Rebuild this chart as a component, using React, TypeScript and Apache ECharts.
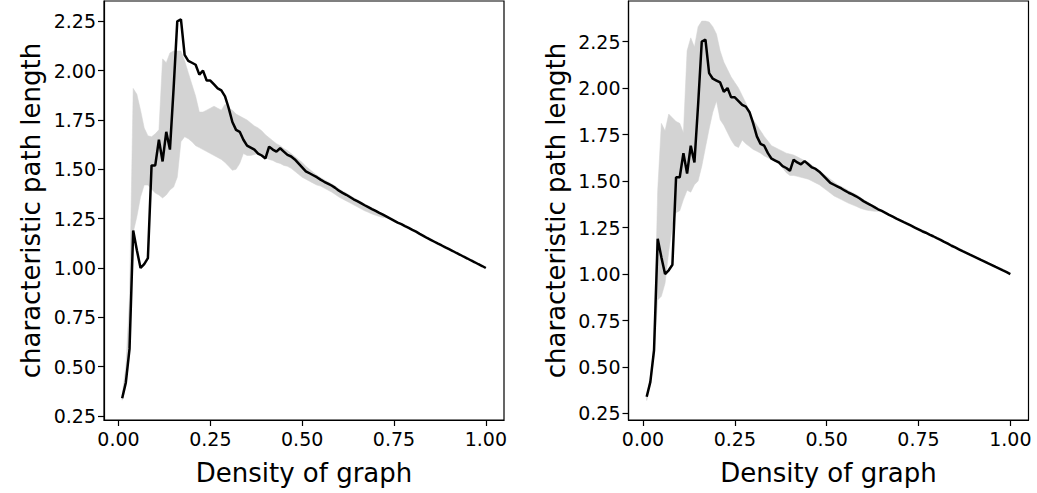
import React, { useEffect, useRef } from "react";
import * as echarts from "echarts";

// Density of graph (x values shared by both panels)
const density = [
  0.01, 0.02, 0.03, 0.04, 0.05, 0.06, 0.07, 0.08, 0.09, 0.1,
  0.11, 0.12, 0.13, 0.14, 0.15, 0.16, 0.17, 0.18, 0.19, 0.2,
  0.21, 0.22, 0.23, 0.24, 0.25, 0.26, 0.27, 0.28, 0.29, 0.3,
  0.31, 0.32, 0.33, 0.34, 0.35, 0.36, 0.37, 0.38, 0.39, 0.4,
  0.41, 0.42, 0.43, 0.44, 0.45, 0.46, 0.47, 0.48, 0.49, 0.5,
  0.51, 0.52, 0.53, 0.54, 0.55, 0.56, 0.57, 0.58, 0.59, 0.6,
  0.61, 0.62, 0.63, 0.64, 0.65, 0.66, 0.67, 0.68, 0.69, 0.7,
  0.71, 0.72, 0.73, 0.74, 0.75, 0.76, 0.77, 0.78, 0.79, 0.8,
  0.81, 0.82, 0.83, 0.84, 0.85, 0.86, 0.87, 0.88, 0.89, 0.9,
  0.91, 0.92, 0.93, 0.94, 0.95, 0.96, 0.97, 0.98, 0.99, 1.0,
];

// Characteristic path length (black line, same in both panels)
const pathLength = [
  0.34, 0.42, 0.59, 1.19, 1.09, 1.0, 1.02, 1.05, 1.52, 1.52,
  1.65, 1.54, 1.69, 1.6, 1.91, 2.25, 2.26, 2.08, 2.05, 2.04,
  2.03, 1.98, 2.0, 1.95, 1.95, 1.93, 1.91, 1.9, 1.87, 1.81,
  1.74, 1.7, 1.69, 1.65, 1.62, 1.61, 1.6, 1.58, 1.57, 1.555,
  1.615, 1.6, 1.59, 1.607, 1.59, 1.573, 1.565, 1.55, 1.53, 1.51,
  1.49, 1.48, 1.47, 1.46, 1.448, 1.437, 1.428, 1.418, 1.406, 1.392,
  1.381, 1.371, 1.36, 1.348, 1.339, 1.329, 1.318, 1.308, 1.298, 1.289,
  1.279, 1.27, 1.26, 1.25, 1.24, 1.23, 1.222, 1.212, 1.203, 1.193,
  1.184, 1.173, 1.163, 1.152, 1.143, 1.133, 1.123, 1.114, 1.104, 1.095,
  1.086, 1.076, 1.067, 1.057, 1.048, 1.038, 1.029, 1.019, 1.01, 1.0,
];

// Left panel shaded band (density 0.01 .. 0.74)
const leftUpper = [
  0.36, 0.5, 0.85, 1.91, 1.88, 1.8, 1.71, 1.67, 1.665, 1.68,
  1.7, 2.06, 2.04, 2.09, 2.1, 2.1, 2.1, 2.05, 1.99, 1.93,
  1.87, 1.79, 1.79, 1.8, 1.81, 1.82, 1.81, 1.8, 1.83, 1.81,
  1.8, 1.78, 1.77, 1.76, 1.75, 1.735, 1.72, 1.71, 1.695, 1.675,
  1.66, 1.645, 1.63, 1.62, 1.605, 1.595, 1.58, 1.565, 1.55, 1.535,
  1.515, 1.5, 1.485, 1.47, 1.458, 1.447, 1.437, 1.427, 1.415, 1.401,
  1.39, 1.38, 1.368, 1.356, 1.346, 1.336, 1.325, 1.314, 1.304, 1.294,
  1.283, 1.273, 1.262, 1.25,
];
const leftLower = [
  0.33, 0.4, 0.56, 1.18, 1.26, 1.36, 1.42, 1.42, 1.4, 1.38,
  1.37, 1.355, 1.37, 1.395, 1.41, 1.46, 1.64, 1.665, 1.655, 1.64,
  1.62, 1.61, 1.6, 1.59, 1.58, 1.57, 1.56, 1.55, 1.535, 1.515,
  1.495, 1.5, 1.53, 1.58, 1.57, 1.57, 1.575, 1.58, 1.57, 1.56,
  1.55, 1.545, 1.535, 1.53, 1.52, 1.515, 1.505, 1.49, 1.475, 1.46,
  1.45, 1.44, 1.43, 1.42, 1.415, 1.405, 1.395, 1.385, 1.373, 1.36,
  1.35, 1.34, 1.33, 1.32, 1.31, 1.3, 1.29, 1.282, 1.274, 1.267,
  1.261, 1.256, 1.254, 1.25,
];

// Right panel shaded band (density 0.01 .. 0.65)
const rightUpper = [
  0.34, 0.45, 0.62, 1.45, 1.81, 1.77, 1.86, 1.84, 1.82, 1.81,
  1.76, 2.2, 2.27, 2.22, 2.33, 2.36, 2.36, 2.355, 2.33, 2.29,
  2.2, 2.14, 2.1, 2.06, 2.03, 2.0, 1.96, 1.92, 1.87, 1.83,
  1.8, 1.77, 1.74, 1.715, 1.69, 1.68, 1.67, 1.66, 1.65, 1.645,
  1.64, 1.63, 1.62, 1.61, 1.6, 1.585, 1.57, 1.555, 1.54, 1.525,
  1.51, 1.495, 1.48, 1.47, 1.46, 1.448, 1.438, 1.428, 1.415, 1.4,
  1.388, 1.377, 1.365, 1.352, 1.34,
];
const rightLower = [
  0.32, 0.4, 0.56, 0.86, 0.88, 0.95, 1.12, 1.26, 1.33, 1.34,
  1.4, 1.45, 1.44, 1.48, 1.5, 1.58, 1.68, 1.78, 1.87, 1.93,
  1.83, 1.8, 1.76, 1.72, 1.69, 1.68, 1.72, 1.7, 1.685, 1.67,
  1.66, 1.65, 1.635, 1.625, 1.615, 1.605, 1.59, 1.57, 1.545, 1.53,
  1.53, 1.525, 1.52, 1.515, 1.51, 1.5, 1.49, 1.48, 1.465, 1.45,
  1.435, 1.42, 1.41, 1.4, 1.39, 1.38, 1.372, 1.364, 1.355, 1.348,
  1.343, 1.34, 1.337, 1.337, 1.338,
];

const xTicks = [0, 0.25, 0.5, 0.75, 1.0];
const yTicks = [0.25, 0.5, 0.75, 1.0, 1.25, 1.5, 1.75, 2.0, 2.25];

const FONT = "DejaVu Sans";

function pairs(ys: number[]) {
  return ys.map((y, i) => [density[i], y]);
}

function makeX(gridIndex: number) {
  return {
    gridIndex,
    type: "value",
    min: -0.0395,
    max: 1.0495,
    axisLine: { show: true, onZero: false, lineStyle: { color: "#000", width: 1.2 } },
    axisTick: { show: true, customValues: xTicks, length: 6, lineStyle: { color: "#000", width: 1.2 } },
    axisLabel: {
      customValues: xTicks,
      formatter: (v: number) => v.toFixed(2),
      fontSize: 19,
      color: "#000",
      fontFamily: FONT,
      margin: 9,
    },
    splitLine: { show: false },
    name: "Density of graph",
    nameLocation: "middle",
    nameGap: 40,
    nameTextStyle: { fontSize: 26, color: "#000", fontFamily: FONT },
  };
}

function makeY(gridIndex: number, min: number, max: number) {
  return {
    gridIndex,
    type: "value",
    min,
    max,
    axisLine: { show: true, onZero: false, lineStyle: { color: "#000", width: 1.2 } },
    axisTick: { show: true, customValues: yTicks, length: 6, lineStyle: { color: "#000", width: 1.2 } },
    axisLabel: {
      customValues: yTicks,
      formatter: (v: number) => v.toFixed(2),
      fontSize: 19,
      color: "#000",
      fontFamily: FONT,
      margin: 8,
    },
    splitLine: { show: false },
    name: "characteristic path length",
    nameLocation: "middle",
    nameGap: 60,
    nameTextStyle: { fontSize: 26, color: "#000", fontFamily: FONT },
  };
}

function bandSeries(idx: number, up: number[], lo: number[]) {
  const rows = up.map((u, i) => [density[i], lo[i], u]);
  return {
    type: "custom",
    xAxisIndex: idx,
    yAxisIndex: idx,
    data: rows,
    encode: { x: 0, y: [1, 2] },
    silent: true,
    z: 1,
    renderItem: (params: any, api: any) => {
      if (params.dataIndex !== 0) return null;
      const top = rows.map((r) => api.coord([r[0], r[2]]));
      const bottom = rows.map((r) => api.coord([r[0], r[1]])).reverse();
      return {
        type: "polygon",
        shape: { points: top.concat(bottom) },
        style: { fill: "#d3d3d3", stroke: "#d3d3d3", lineWidth: 0.5 },
      };
    },
  };
}

function lineSeries(idx: number) {
  return {
    type: "line",
    xAxisIndex: idx,
    yAxisIndex: idx,
    data: pairs(pathLength),
    symbol: "none",
    lineStyle: { color: "#000", width: 2.5 },
    z: 3,
  };
}

export default function App() {
  const ref = useRef<HTMLDivElement>(null);
  useEffect(() => {
    if (!ref.current) return;
    const chart = echarts.init(ref.current, null, { renderer: "svg" });
    chart.setOption({
      animation: false,
      backgroundColor: "#fff",
      textStyle: { fontFamily: FONT },
      grid: [
        { left: 104, top: 1, width: 400, height: 419, show: true, borderColor: "#000", borderWidth: 1.2 },
        { left: 628.5, top: 1, width: 400, height: 419, show: true, borderColor: "#000", borderWidth: 1.2 },
      ],
      xAxis: [makeX(0), makeX(1)],
      yAxis: [makeY(0, 0.2297, 2.353), makeY(1, 0.215, 2.468)],
      series: [
        bandSeries(0, leftUpper, leftLower),
        lineSeries(0),
        bandSeries(1, rightUpper, rightLower),
        lineSeries(1),
      ],
    });
    return () => chart.dispose();
  }, []);
  return (
    <div
      ref={ref}
      style={{ position: "absolute", left: 0, top: 0, width: 1037, height: 493, background: "#fff" }}
    />
  );
}
